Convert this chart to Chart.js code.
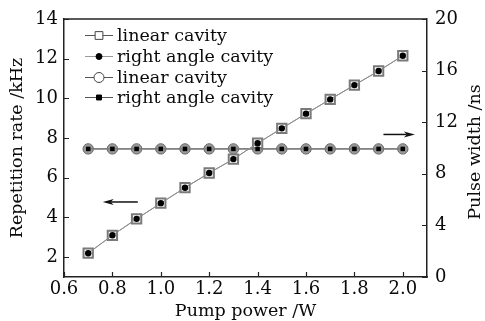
<!DOCTYPE html>
<html>
<head>
<meta charset="utf-8">
<script src="https://cdn.jsdelivr.net/npm/chart.js@4/dist/chart.umd.min.js"></script>
<style>
  html, body { margin: 0; padding: 0; background: #fff; }
  #wrap { width: 485px; height: 321px; }
</style>
</head>
<body>
<div id="wrap"><canvas id="cavityChart"></canvas></div>
<script>
// pump power (W)
const pumpPower = [0.7, 0.8, 0.9, 1.0, 1.1, 1.2, 1.3, 1.4, 1.5, 1.6, 1.7, 1.8, 1.9, 2.0];
// repetition rate (kHz), both cavities sit on the same points
const repRateLinear = [2.2, 3.1, 3.93, 4.72, 5.5, 6.24, 6.94, 7.74, 8.49, 9.23, 9.95, 10.67, 11.38, 12.15];
const repRateRightAngle = [2.2, 3.1, 3.93, 4.72, 5.5, 6.24, 6.94, 7.74, 8.49, 9.23, 9.95, 10.67, 11.38, 12.15];
// pulse width (ns)
const pulseLinear = [9.93, 9.93, 9.93, 9.93, 9.93, 9.93, 9.93, 9.93, 9.93, 9.93, 9.93, 9.93, 9.93, 9.93];
const pulseRightAngle = [9.93, 9.93, 9.93, 9.93, 9.93, 9.93, 9.93, 9.93, 9.93, 9.93, 9.93, 9.93, 9.93, 9.93];

const xTicks = [0.6, 0.8, 1.0, 1.2, 1.4, 1.6, 1.8, 2.0];
const leftTicks = [2, 4, 6, 8, 10, 12, 14];
const rightTicks = [0, 4, 8, 12, 16, 20];

const FONT = 'DejaVu Serif';
const AXIS = '#222';
const LINE = '#8c8c8c';
const TEXT = '#0a0a0a';

function pts(ys) {
    return pumpPower.map((x, i) => ({ x: x, y: ys[i] }));
}

// small helper: draws inward tick marks, the top frame line,
// the legend inside the plot, the two arrows and the right title
const decorPlugin = {
    id: 'decor',
    afterDraw(chart) {
        const ctx = chart.ctx;
        const a = chart.chartArea;
        const sx = chart.scales.x, sy = chart.scales.y, sy1 = chart.scales.y1;
        ctx.save();

        // frame top
        ctx.strokeStyle = AXIS;
        ctx.lineWidth = 1.5;
        ctx.beginPath();
        ctx.moveTo(a.left, a.top);
        ctx.lineTo(a.right, a.top);
        ctx.stroke();

        // inward ticks
        ctx.lineWidth = 1.2;
        ctx.beginPath();
        xTicks.forEach(v => {
            const px = Math.round(sx.getPixelForValue(v)) + 0.5;
            ctx.moveTo(px, a.bottom);
            ctx.lineTo(px, a.bottom - 5);
        });
        leftTicks.forEach(v => {
            const py = Math.round(sy.getPixelForValue(v)) + 0.5;
            ctx.moveTo(a.left, py);
            ctx.lineTo(a.left + 5, py);
        });
        rightTicks.forEach(v => {
            const py = Math.round(sy1.getPixelForValue(v)) + 0.5;
            ctx.moveTo(a.right, py);
            ctx.lineTo(a.right - 5, py);
        });
        ctx.stroke();

        // legend
        const rowY = [35, 56, 77, 97];
        const lx0 = a.left + 21, lx1 = a.left + 49, mx = a.left + 35;
        ctx.font = '17.5px "' + FONT + '"';
        ctx.textBaseline = 'middle';
        ctx.textAlign = 'left';
        chart.data.datasets.forEach(ds => {
            const y = rowY[ds.legendRow];
            ctx.strokeStyle = ds.legendLine;
            ctx.lineWidth = 1;
            ctx.beginPath();
            ctx.moveTo(lx0, y + 0.5);
            ctx.lineTo(lx1, y + 0.5);
            ctx.stroke();
            ctx.fillStyle = ds.legendFill;
            ctx.strokeStyle = ds.legendStroke;
            ctx.lineWidth = 1;
            Chart.helpers.drawPoint(ctx, {
                pointStyle: ds.pointStyle,
                radius: ds.legendRadius,
                rotation: 0,
                borderWidth: 1
            }, mx, y + 0.5);
            ctx.fillStyle = TEXT;
            ctx.fillText(ds.label, a.left + 53, y + 1);
        });

        // arrows pointing at the axis of each series
        function arrow(x0, x1, y) {
            ctx.strokeStyle = '#111';
            ctx.fillStyle = '#111';
            ctx.lineWidth = 1.5;
            const dir = Math.sign(x1 - x0);
            ctx.beginPath();
            ctx.moveTo(x0, y);
            ctx.lineTo(x1 - dir * 8, y);
            ctx.stroke();
            ctx.beginPath();
            ctx.moveTo(x1, y);
            ctx.lineTo(x1 - dir * 11, y - 3);
            ctx.lineTo(x1 - dir * 8, y);
            ctx.lineTo(x1 - dir * 11, y + 3);
            ctx.closePath();
            ctx.fill();
        }
        arrow(sx.getPixelForValue(0.905), sx.getPixelForValue(0.76), sy.getPixelForValue(4.78));
        arrow(sx.getPixelForValue(1.92), sx.getPixelForValue(2.05), sy1.getPixelForValue(11.05));

        // right axis title reads bottom to top
        ctx.translate(475, 152);
        ctx.rotate(-Math.PI / 2);
        ctx.textAlign = 'center';
        ctx.fillStyle = TEXT;
        ctx.font = '17.5px "' + FONT + '"';
        ctx.fillText('Pulse width /ns', 0, 0);
        ctx.restore();
    }
};

const ctx = document.getElementById('cavityChart').getContext('2d');
new Chart(ctx, {
    type: 'line',
    data: {
        datasets: [
            {
                label: 'linear cavity',
                data: pts(repRateLinear),
                yAxisID: 'y',
                pointStyle: 'rect',
                pointRadius: 6.6,
                pointBackgroundColor: '#fff',
                pointBorderColor: '#7a7a7a',
                pointBorderWidth: 2,
                borderColor: LINE,
                borderWidth: 1,
                order: 2,
                legendRow: 0, legendRadius: 5.5, legendFill: '#fff', legendStroke: '#444', legendLine: '#555'
            },
            {
                label: 'right angle cavity',
                data: pts(repRateRightAngle),
                yAxisID: 'y',
                pointStyle: 'circle',
                pointRadius: 3.2,
                pointBackgroundColor: '#000',
                pointBorderColor: '#000',
                pointBorderWidth: 0,
                borderColor: LINE,
                borderWidth: 1,
                order: 1,
                legendRow: 1, legendRadius: 3, legendFill: '#000', legendStroke: '#000', legendLine: '#999'
            },
            {
                label: 'linear cavity',
                data: pts(pulseLinear),
                yAxisID: 'y1',
                pointStyle: 'circle',
                pointRadius: 5.2,
                pointBackgroundColor: '#9a9a9a',
                pointBorderColor: '#666',
                pointBorderWidth: 1,
                borderColor: '#7a7a7a',
                borderWidth: 1.2,
                order: 2,
                legendRow: 2, legendRadius: 5, legendFill: '#fff', legendStroke: '#444', legendLine: '#555'
            },
            {
                label: 'right angle cavity',
                data: pts(pulseRightAngle),
                yAxisID: 'y1',
                pointStyle: 'rect',
                pointRadius: 3.2,
                pointBackgroundColor: '#000',
                pointBorderColor: '#000',
                pointBorderWidth: 0,
                borderColor: '#7a7a7a',
                borderWidth: 1.2,
                order: 1,
                legendRow: 3, legendRadius: 3.5, legendFill: '#000', legendStroke: '#000', legendLine: '#555'
            }
        ]
    },
    options: {
        responsive: true,
        maintainAspectRatio: false,
        animation: false,
        layout: { padding: { top: 19, left: 0, right: 0, bottom: 0 } },
        plugins: {
            legend: { display: false },
            tooltip: { enabled: false }
        },
        scales: {
            x: {
                type: 'linear',
                min: 0.6,
                max: 2.1,
                afterBuildTicks: s => { s.ticks = xTicks.map(v => ({ value: v })); },
                afterFit: s => { s.height = 44; },
                grid: { display: false, drawTicks: false },
                border: { display: true, color: AXIS, width: 1.5 },
                ticks: {
                    padding: 2,
                    color: TEXT,
                    maxRotation: 0,
                    font: { family: FONT, size: 18 },
                    callback: v => v.toFixed(1)
                },
                title: {
                    display: true,
                    text: 'Pump power /W',
                    color: TEXT,
                    padding: { top: 0, bottom: 1 },
                    font: { family: FONT, size: 17.5, lineHeight: 1 }
                }
            },
            y: {
                type: 'linear',
                position: 'left',
                min: 1,
                max: 14,
                afterBuildTicks: s => { s.ticks = leftTicks.map(v => ({ value: v })); },
                afterFit: s => { s.width = 64; },
                grid: { display: false, drawTicks: false },
                border: { display: true, color: AXIS, width: 1.5 },
                ticks: {
                    padding: 6,
                    color: TEXT,
                    font: { family: FONT, size: 18 }
                },
                title: {
                    display: true,
                    text: 'Repetition rate /kHz',
                    color: TEXT,
                    padding: { top: 9, bottom: 0 },
                    font: { family: FONT, size: 17.5, lineHeight: 1 }
                }
            },
            y1: {
                type: 'linear',
                position: 'right',
                min: 0,
                max: 20,
                afterBuildTicks: s => { s.ticks = rightTicks.map(v => ({ value: v })); },
                afterFit: s => { s.width = 58; },
                grid: { display: false, drawTicks: false },
                border: { display: true, color: AXIS, width: 1.5 },
                ticks: {
                    padding: 8,
                    color: TEXT,
                    font: { family: FONT, size: 18 }
                }
            }
        }
    },
    plugins: [decorPlugin]
});
</script>
</body>
</html>
